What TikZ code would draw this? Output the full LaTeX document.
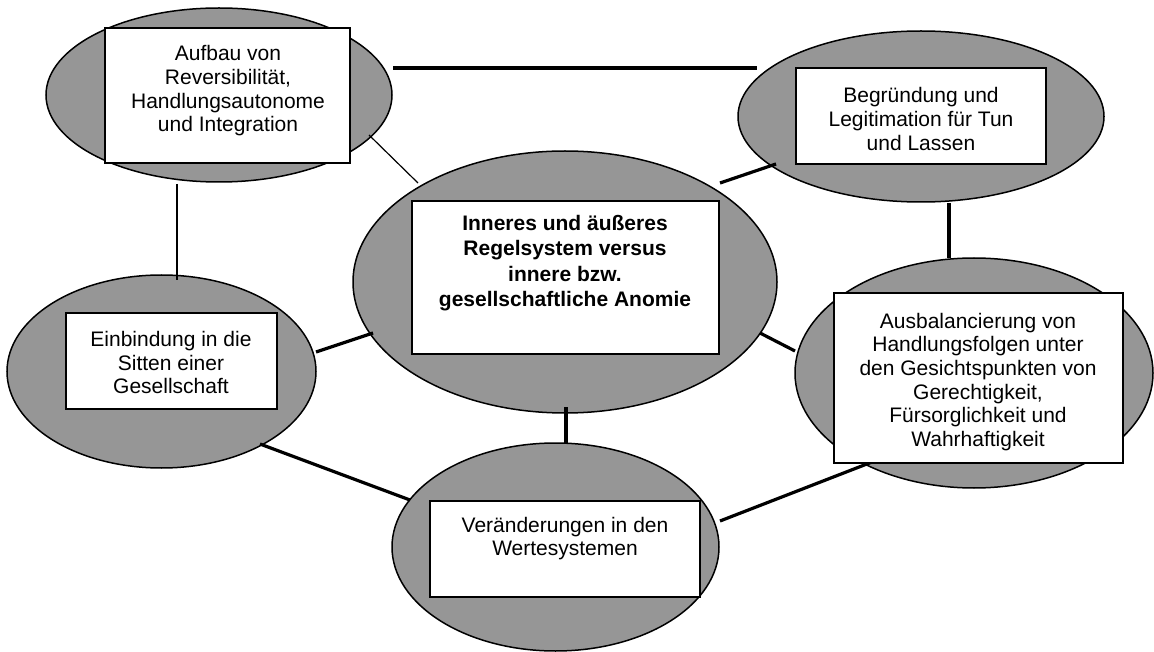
\documentclass[tikz,border=0pt]{standalone}
\usepackage{fontspec}
\setmainfont{Liberation Sans}
\usetikzlibrary{shapes.geometric}
\definecolor{ellgray}{RGB}{150,150,150}
\tikzset{
  ell/.style={ellipse, draw=black, line width=1.5pt, fill=ellgray, inner sep=0pt, outer sep=0pt},
  boxnode/.style={rectangle, draw=black, line width=2pt, fill=white, inner sep=0pt, outer sep=0pt},
  txt/.style={align=center, inner sep=0pt, font=\fontsize{21}{23.7}\selectfont},
  txtbold/.style={align=center, inner sep=0pt, font=\fontsize{21}{25.3}\selectfont\bfseries},
  heavy/.style={line width=3.2pt},
  light/.style={line width=1.2pt}
}
\begin{document}
\begin{tikzpicture}[x=1pt,y=-1pt]
\useasboundingbox (0,0) rectangle (1154,652);
% ellipses
\node[ell, minimum width=346pt, minimum height=174pt] (A) at (219,95) {};
\node[ell, minimum width=366pt, minimum height=171pt] (B) at (921,116.5) {};
\node[ell, minimum width=424pt, minimum height=262pt] (C) at (565,282) {};
\node[ell, minimum width=309pt, minimum height=193pt] (D) at (161.5,371.5) {};
\node[ell, minimum width=327pt, minimum height=208pt] (E) at (555.5,547) {};
\node[ell, minimum width=358pt, minimum height=230pt] (F) at (974,373) {};
% connectors
\draw[heavy] ([shift={(174,-27)}]A.center) -- ([shift={(-164,-48.5)}]B.center);
\draw[light] ([shift={(150,40)}]A.center) -- ([shift={(-147,-99)}]C.center);
\draw[light] ([shift={(-42,89)}]A.center) -- ([shift={(15.5,-91.5)}]D.center);
\draw[heavy] ([shift={(155,-99)}]C.center) -- ([shift={(-145,47.5)}]B.center);
\draw[heavy] ([shift={(28,86.5)}]B.center) -- ([shift={(-25,-115)}]F.center);
\draw[heavy] ([shift={(195,51)}]C.center) -- ([shift={(-179,-22)}]F.center);
\draw[heavy] ([shift={(-192,51)}]C.center) -- ([shift={(154.5,-19.5)}]D.center);
\draw[heavy] ([shift={(1,125)}]C.center) -- ([shift={(10.5,-104)}]E.center);
\draw[heavy] ([shift={(98.5,72.5)}]D.center) -- ([shift={(-145.5,-47)}]E.center);
\draw[heavy] ([shift={(164.5,-26)}]E.center) -- ([shift={(-102,89)}]F.center);
% boxes
\node[boxnode, minimum width=245pt, minimum height=135pt] (bA) at (227.5,95.5) {};
\node[boxnode, minimum width=250pt, minimum height=96pt] (bB) at (921,116) {};
\node[boxnode, minimum width=307pt, minimum height=153pt] (bC) at (565.5,277.5) {};
\node[boxnode, minimum width=211pt, minimum height=96pt] (bD) at (171.5,361) {};
\node[boxnode, minimum width=270pt, minimum height=96pt] (bE) at (565,549) {};
\node[boxnode, minimum width=289pt, minimum height=170pt] (bF) at (978.5,378) {};
% texts
\node[txt] (tA) at (228,90.8) {Aufbau von\\Reversibilität,\\Handlungsautonome\\und Integration};
\node[txt] (tB) at (921,119) {Begründung und\\Legitimation für Tun\\und Lassen};
\node[txtbold] (tC) at (565,263) {Inneres und äußeres\\Regelsystem versus\\innere bzw.\\gesellschaftliche Anomie};
\node[txt] (tD) at (171,362.7) {Einbindung in die\\Sitten einer\\Gesellschaft};
\node[txt] (tE) at (565,538.5) {Veränderungen in den\\Wertesystemen};
\node[txt] (tF) at (978,382) {Ausbalancierung von\\Handlungsfolgen unter\\den Gesichtspunkten von\\Gerechtigkeit,\\Fürsorglichkeit und\\Wahrhaftigkeit};
\end{tikzpicture}
\end{document}
